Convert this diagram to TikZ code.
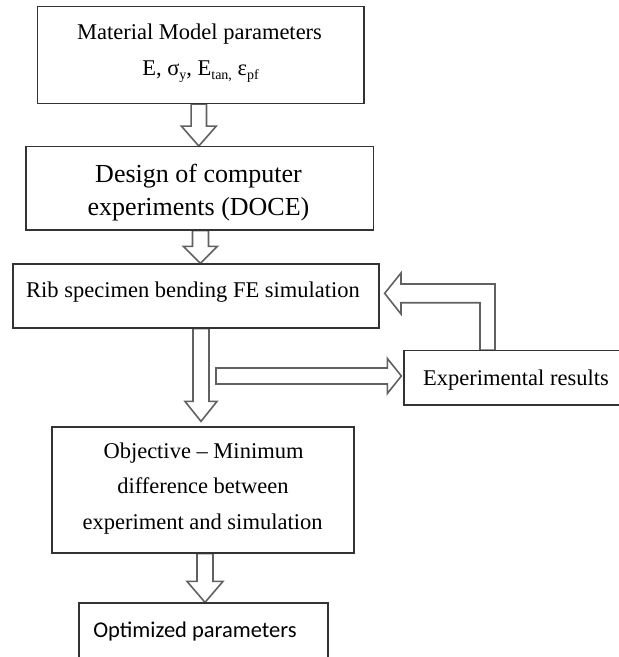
\documentclass[tikz,border=0pt]{standalone}
\usepackage{fontspec}
\setmainfont{Liberation Serif}
\newfontfamily\calfont{Carlito}
\usetikzlibrary{calc,backgrounds}
\newcommand\sbs[1]{\raisebox{-4.5pt}{\fontsize{14}{14}\selectfont #1}}
% #1 from, #2 to, #3 dx, #4 shaft half, #5 head half, #6 head length
\newcommand\blockdown[6]{%
  \draw[blk] let \p1=(#1), \p2=(#2) in
    (\x1#3-#4,\y1) -- (\x1#3+#4,\y1) -- (\x1#3+#4,\y2+#6) -- (\x1#3+#5,\y2+#6)
    -- (\x1#3,\y2) -- (\x1#3-#5,\y2+#6) -- (\x1#3-#4,\y2+#6) -- cycle;}
\begin{document}
\begin{tikzpicture}[x=1pt,y=-1pt,
  box/.style={draw=black!80, line width=1.3pt, rectangle, inner sep=0pt},
  blk/.style={draw=black!62, line width=1.6pt, fill=white, line join=miter},
  txt/.style={inner sep=0pt, anchor=base, font=\fontsize{22.5}{27}\selectfont},
  bigtxt/.style={inner sep=0pt, anchor=base, font=\fontsize{26}{30}\selectfont}
]
\useasboundingbox (0,0) rectangle (619,657);
\clip (0,0) rectangle (619,657);

% boxes
\node[box, minimum width=326.3pt, minimum height=96.8pt] (b1) at (200.9,55.1) {};
\node[box, minimum width=347.5pt, minimum height=83.3pt] (b2) at (199.75,188.35) {};
\node[box, minimum width=366pt, minimum height=64pt] (b3) at (196,296) {};
\node[box, minimum width=302pt, minimum height=126pt] (b4) at (203,490) {};
\node[box, minimum width=249pt, minimum height=100pt] (b5) at (203.5,653) {};
\node[box, minimum width=236pt, minimum height=54.3pt] (exp) at (522,377.85) {};

% texts
\node[txt] (t1a) at (199.5,39.3) {Material Model parameters};
\node[txt] (t1b) at (200.5,75) {E, σ\sbs{y}, E\sbs{tan,} ε\sbs{pf}};
\node[bigtxt] (t2a) at (198.5,182) {Design of computer};
\node[bigtxt] (t2b) at (198.5,215) {experiments (DOCE)};
\node[txt] (t3) at (193,297.7) {Rib specimen bending FE simulation};
\node[txt] (t4) at (516,385) {Experimental results};
\node[txt] (t5a) at (203.5,458) {Objective – Minimum};
\node[txt] (t5b) at (203,493) {difference between};
\node[txt] (t5c) at (202.5,529) {experiment and simulation};
\node[txt, font=\calfont\fontsize{22.5}{27}\selectfont] (t6) at (195,637) {Optimized parameters};

\coordinate (s5) at (216,376);

\begin{pgfonlayer}{background}
\fill[white] (0,0) rectangle (619,657);
\blockdown{b1.south}{b2.north}{-2.1pt}{7.7pt}{17.5pt}{20pt}
\blockdown{b2.south}{b3.north}{+0.7pt}{8pt}{17pt}{17pt}
\blockdown{b3.south}{$(b4.north)+(0,-5)$}{+5pt}{8pt}{16pt}{20pt}
\blockdown{b4.south}{b5.north}{+2pt}{8pt}{18pt}{21pt}
% to experimental results
\draw[blk] let \p1=(s5), \p2=(exp.west) in
  (\x1,\y1+8pt) -- (\x2-16pt,\y1+8pt) -- (\x2-16pt,\y1+17.5pt) -- (\x2-2pt,\y1)
  -- (\x2-16pt,\y1-17.5pt) -- (\x2-16pt,\y1-8pt) -- (\x1,\y1-8pt) -- cycle;
% feedback
\draw[blk] let \p1=(exp.north), \p2=(b3.east) in
  (480pt,\y1) -- (480pt,-302.7pt) -- (401pt,-302.7pt) -- (401pt,-314pt)
  -- (\x2+5pt,-293.35pt) -- (401pt,-273pt) -- (401pt,-284pt) -- (495pt,-284pt)
  -- (495pt,\y1) -- cycle;
\end{pgfonlayer}
\end{tikzpicture}
\end{document}
